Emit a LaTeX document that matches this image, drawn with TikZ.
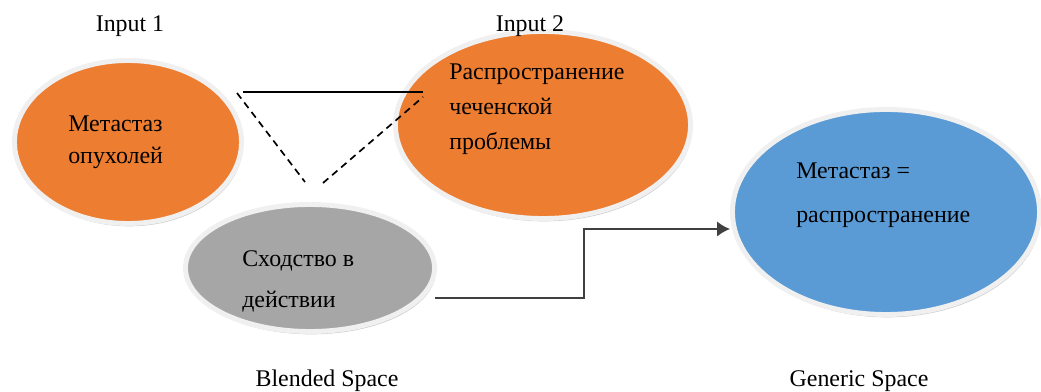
\documentclass[tikz,border=0pt]{standalone}
\usepackage{fontspec}
\setmainfont{Liberation Serif}
\usetikzlibrary{arrows.meta,shapes.geometric,shadows}
\definecolor{inputorange}{RGB}{237,125,49}
\definecolor{blendgray}{RGB}{166,166,166}
\definecolor{genericblue}{RGB}{91,155,213}

\begin{document}
\begin{tikzpicture}[x=0.025cm,y=-0.025cm,
  space/.style={ellipse,inner sep=0pt,draw=white!94!black,line width=3.5pt,drop shadow={opacity=0.4,shadow xshift=1pt,shadow yshift=-2pt}},
  inputspace/.style={space,fill=inputorange},
  caption/.style={font=\fontsize{17}{20}\selectfont,anchor=base,inner sep=0pt},
  body/.style={font=\fontsize{17}{#1}\selectfont,align=left,anchor=base west,inner sep=0pt},
  link/.style={line width=1.2pt},
  arrow/.style={-{Latex[length=3.2mm,width=3.8mm]},line width=1.4pt,draw=black!75}]
  \useasboundingbox (0,0) rectangle (1041,392);
  \node[inputspace,minimum width=5.675cm,minimum height=4.075cm] (input1) at (128,142) {};
  \node[inputspace,minimum width=7.375cm,minimum height=4.675cm] (input2) at (543,125) {};
  \node[space,fill=blendgray,minimum width=6.225cm,minimum height=3.175cm] (blend) at (310,268) {};
  \node[space,fill=genericblue,minimum width=7.675cm,minimum height=5.125cm] (generic) at (886,212) {};
  \node[body=22.8pt] (input1txt) at (68,164) {Метастаз\\опухолей};
  \node[body=25pt] (input2txt) at (449,150) {Распространение\\чеченской\\проблемы};
  \node[body=29.2pt] (blendtxt) at (242,308) {Сходство в\\действии};
  \node[body=31.3pt] (generictxt) at (796,223) {Метастаз =\\распространение};
  \node[caption] (input1lbl) at (130,32) {Input 1};
  \node[caption] (input2lbl) at (530,32) {Input 2};
  \node[caption] (blendlbl) at (327,387) {Blended Space};
  \node[caption] (genericlbl) at (859,387) {Generic Space};
  \coordinate (topleft) at (243,92);
  \coordinate (topright) at (423,92);
  \coordinate (dashleft) at (237,93);
  \coordinate (dashlow) at (305,182);
  \coordinate (dashmid) at (323,183);
  \coordinate (dashright) at (423,97);
  \coordinate (blendout) at (435,298);
  \coordinate (bendpt) at (584,229);
  \draw[link] (topleft) -- (topright);
  \draw[link,dash pattern=on 5pt off 3.5pt] (dashleft) -- (dashlow);
  \draw[link,dash pattern=on 5pt off 3.5pt] (dashmid) -- (dashright);
  \draw[arrow] (blendout) -| (bendpt) -- (bendpt -| generic.west);
\end{tikzpicture}
\end{document}
